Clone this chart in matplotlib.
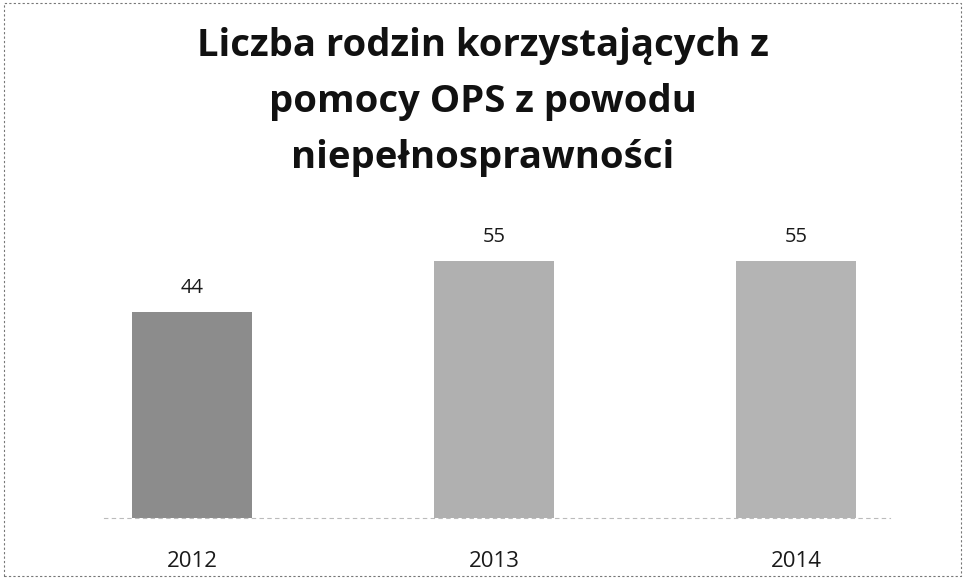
import matplotlib
matplotlib.use("Agg")
import matplotlib.pyplot as plt
from matplotlib.patches import Rectangle

years = ["2012", "2013", "2014"]
values = [44, 55, 55]
bar_colors = ["#8c8c8c", "#b0b0b0", "#b4b4b4"]
title = "Liczba rodzin korzystających z\npomocy OPS z powodu\nniepełnosprawności"

plt.rcParams['font.family'] = ['Open Sans', 'DejaVu Sans']

fig = plt.figure(figsize=(9.65, 5.78), dpi=100)
fig.patches.append(Rectangle((0.004, 0.004), 0.992, 0.99, transform=fig.transFigure,
                             fill=False, edgecolor="#777777", linewidth=0.8,
                             linestyle=(0, (2, 2))))

ax = fig.add_axes([41/965, 60/578, 906/965, 293/578])
x = list(range(len(years)))
bars = ax.bar(x, values, width=0.4, color=bar_colors, edgecolor="none")
for xi, v in zip(x, values):
    ax.text(xi, v + 3.0, str(v), ha="center", va="bottom", fontsize=14.5, color="#1a1a1a")

ax.set_xlim(-0.5, 2.5)
ax.set_ylim(0, 62.6)
ax.set_xticks(x)
ax.set_xticklabels(years, fontsize=16, color="#1a1a1a")
ax.tick_params(axis="x", length=0, pad=24)
ax.set_yticks([])
for s in ["top", "right", "left"]:
    ax.spines[s].set_visible(False)
ax.spines["bottom"].set_color("#bbbbbb")
ax.spines["bottom"].set_linestyle((0, (3, 4)))
ax.spines["bottom"].set_linewidth(0.8)
ax.spines["bottom"].set_bounds(-0.29, 2.31)

fig.text(0.5, 1 - 102/578, title, ha="center", va="center", fontsize=27.5,
         fontweight="bold", linespacing=1.62, color="#111111")

fig.savefig("out.png", dpi=100)
